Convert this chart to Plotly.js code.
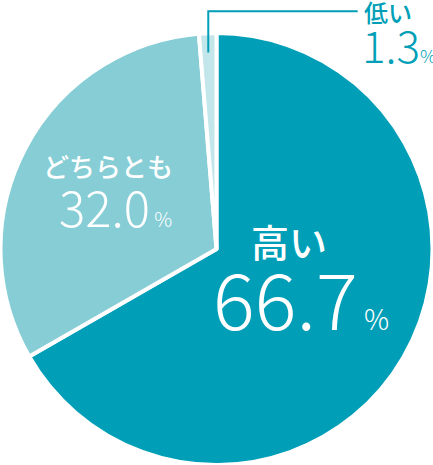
<!DOCTYPE html>
<html>
<head>
<meta charset="utf-8">
<script src="https://cdn.plot.ly/plotly-3.0.1.min.js"></script>
<style>
  html, body { margin: 0; padding: 0; background: #fff; }
  #chart { width: 433px; height: 465px; }
</style>
</head>
<body>
<div id="chart"></div>
<script>
var labels = ['高い', 'どちらとも', '低い'];
var values = [66.7, 32.0, 1.3];
var colors = ['#009fb7', '#86cdd5', '#c3e6eb'];

var font = '"Noto Sans CJK JP", "Noto Sans", sans-serif';
var W = 433, H = 465;

// label name + value placed as two annotations (pixel positions converted to paper)
function nameNote(txt, px, py, size, color, anchor) {
    return {
        text: txt, x: px / W, y: 1 - py / H, xref: 'paper', yref: 'paper',
        xanchor: anchor, yanchor: 'middle', showarrow: false,
        font: { family: font, size: size, color: color, weight: 500 }
    };
}
function valueNote(val, px, py, size, pctSize, color, gap) {
    return {
        text: val.toFixed(1) + '<span style="font-size:' + pctSize + 'px">' + (gap ? ' ' : '') + '%</span>',
        x: px / W, y: 1 - py / H, xref: 'paper', yref: 'paper',
        xanchor: 'left', yanchor: 'middle', showarrow: false,
        font: { family: font, size: size, color: color, weight: 300 }
    };
}

var trace = {
    type: 'pie',
    labels: labels,
    values: values,
    sort: false,
    direction: 'clockwise',
    rotation: 0,
    textinfo: 'none',
    hoverinfo: 'none',
    marker: { colors: colors, line: { color: '#ffffff', width: 4 } },
    domain: { x: [0, 1], y: [0, 432 / 465] }
};

var layout = {
    width: W,
    height: H,
    margin: { l: 0, r: 0, t: 0, b: 0 },
    paper_bgcolor: '#ffffff',
    showlegend: false,
    font: { family: font },
    shapes: [{
        type: 'path',
        xref: 'paper', yref: 'paper',
        path: 'M 0.481 0.887 L 0.481 0.976 L 0.826 0.976',
        line: { color: '#009fb7', width: 2 }
    }],
    annotations: [
        nameNote(labels[0], 289, 240, 38, '#ffffff', 'center'),
        valueNote(values[0], 211, 296, 78, 28, '#ffffff', true),
        nameNote(labels[1], 108, 166, 26, '#ffffff', 'center'),
        valueNote(values[1], 57, 205, 49, 20, '#ffffff', true),
        nameNote(labels[2], 362, 12, 24, '#009fb7', 'left'),
        valueNote(values[2], 360, 44, 44, 18, '#009fb7', false)
    ]
};

Plotly.newPlot('chart', [trace], layout, { displayModeBar: false, staticPlot: true });
</script>
</body>
</html>
